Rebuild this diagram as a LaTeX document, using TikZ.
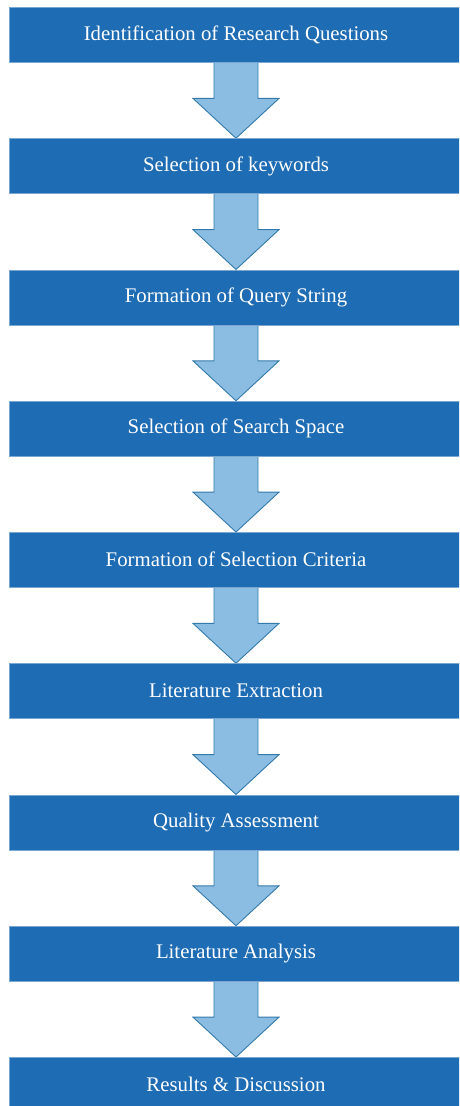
\documentclass[tikz,border=0pt]{standalone}
\usepackage{fontspec}
\setmainfont{Liberation Serif}
\usetikzlibrary{calc,backgrounds}
\definecolor{boxblue}{RGB}{30,108,179}
\definecolor{arrfill}{RGB}{139,189,227}
\definecolor{arrline}{RGB}{52,122,170}
\tikzset{
  stepbox/.style={fill=boxblue, draw=boxblue!60!white, line width=0.4pt, minimum width=454, minimum height=55, inner sep=0pt, anchor=north, text=white, font=\fontsize{20.8}{24}\selectfont},
  fatarr/.style={fill=arrfill, draw=arrline, line width=0.9pt, line join=miter}
}
\begin{document}
\begin{tikzpicture}[x=1pt,y=-1pt]
\useasboundingbox (0,0) rectangle (459,1106);
\clip (0,0) rectangle (459,1106);
\node[stepbox] (b1) at (236,7) {Identification of Research Questions};
\node[stepbox] (b2) at (236,138.25) {Selection of keywords};
\node[stepbox] (b3) at (236,269.5) {Formation of Query String};
\node[stepbox] (b4) at (236,400.75) {Selection of Search Space};
\node[stepbox] (b5) at (236,532) {Formation of Selection Criteria};
\node[stepbox] (b6) at (236,663.25) {Literature Extraction};
\node[stepbox] (b7) at (236,794.5) {Quality Assessment};
\node[stepbox] (b8) at (236,925.75) {Literature Analysis};
\node[stepbox] (b9) at (236,1057) {Results \& Discussion};
\begin{scope}[on background layer]
\foreach \i/\j in {1/2,2/3,3/4,4/5,5/6,6/7,7/8,8/9}{
  \draw[fatarr] ($(b\i.south)+(-22,-2)$) -- ($(b\i.south)+(-22,36)$) -- ($(b\i.south)+(-43,36)$) -- (b\j.north) -- ($(b\i.south)+(43,36)$) -- ($(b\i.south)+(22,36)$) -- ($(b\i.south)+(22,-2)$);
}
\end{scope}
\end{tikzpicture}
\end{document}
